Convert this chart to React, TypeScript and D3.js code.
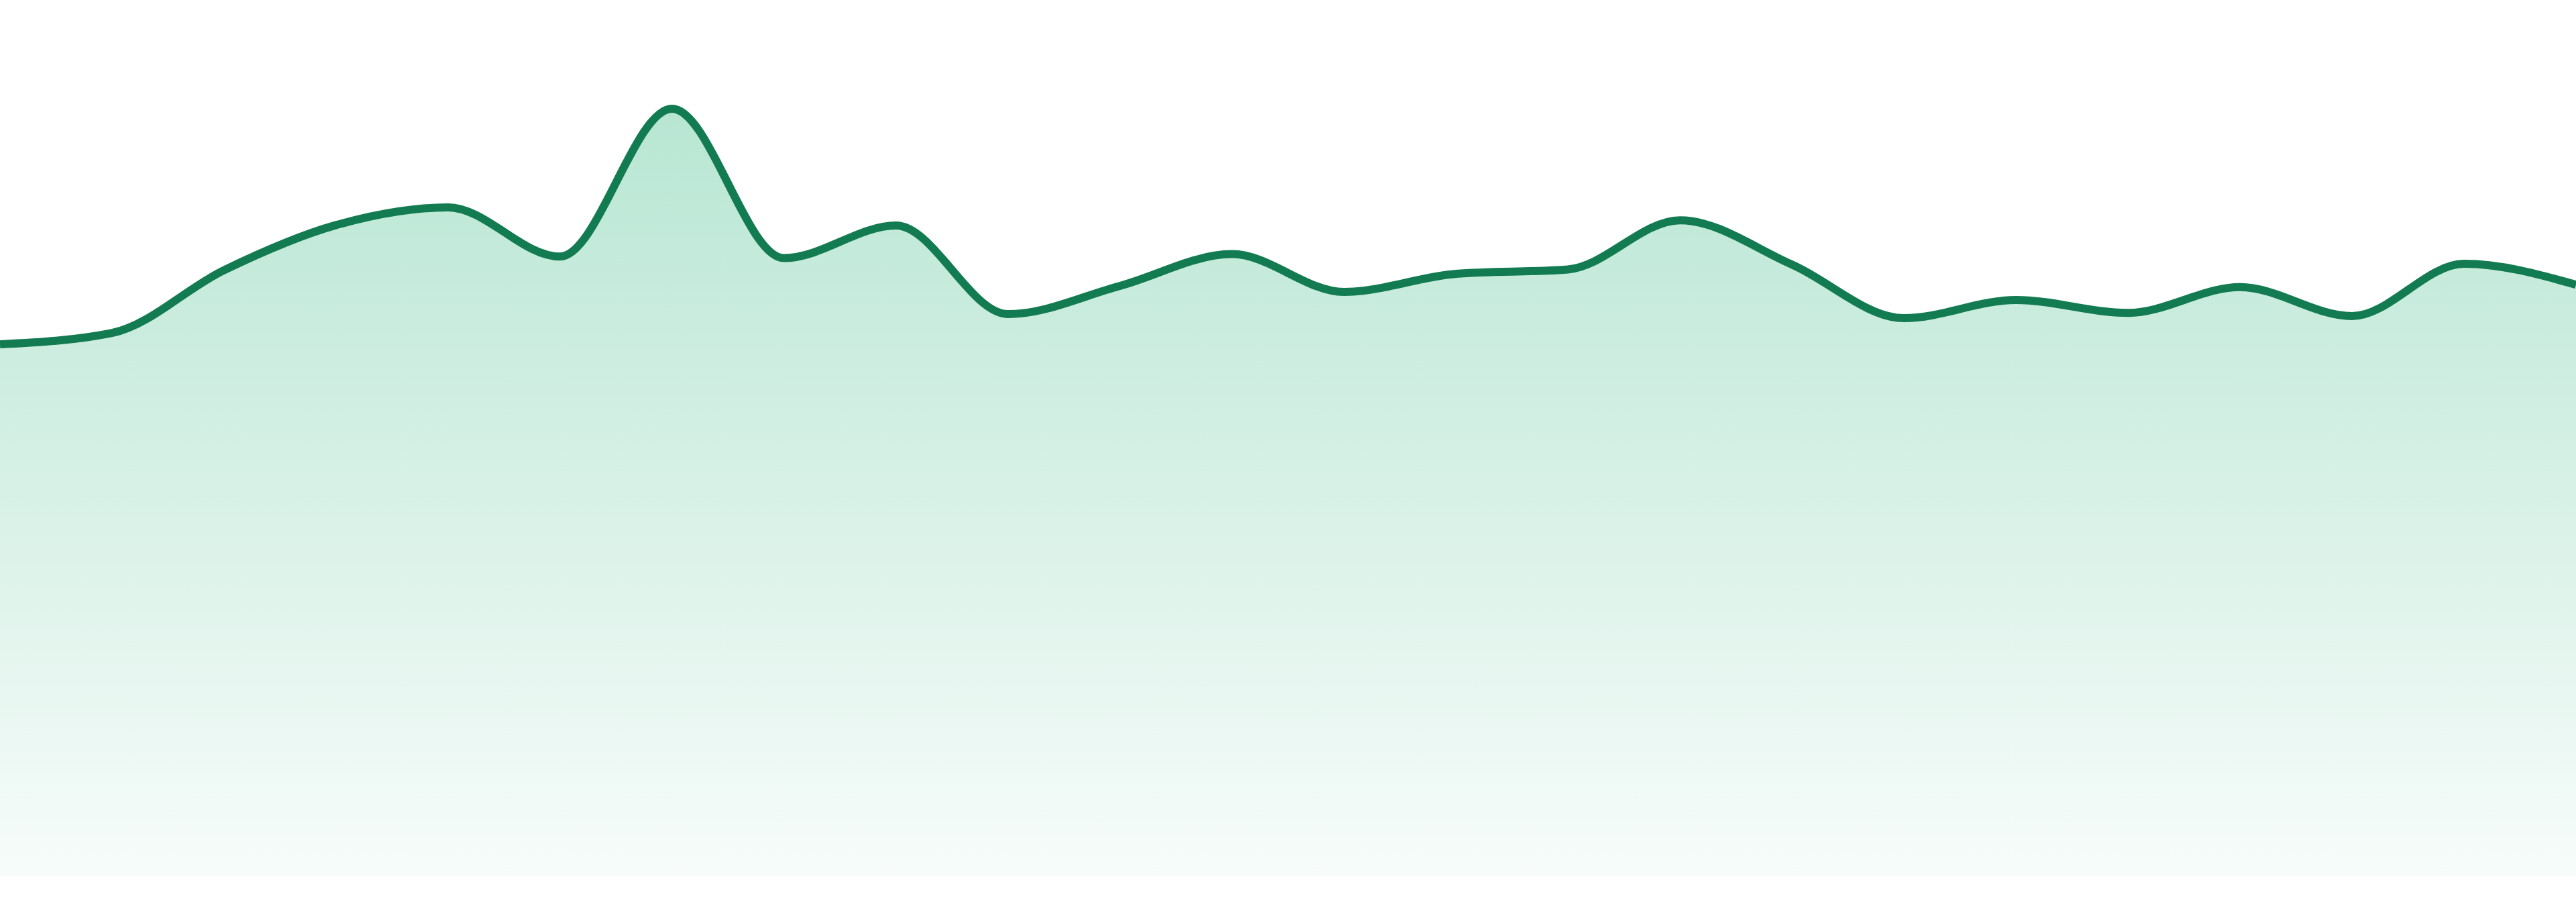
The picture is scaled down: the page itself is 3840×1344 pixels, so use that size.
import React from 'react';
import { area, curveMonotoneX, line, scaleLinear } from 'd3';

const width = 3840;
const height = 1344;
const baseline = 1305;

// one reading per step
const steps = [0, 1, 2, 3, 4, 5, 6, 7, 8, 9, 10, 11, 12, 13, 14, 15, 16, 17, 18, 19, 20, 21, 22, 23];
const values = [
  66.0, 67.4, 75.2, 80.8, 83.0, 76.9, 95.25, 76.7, 80.75, 69.75, 73.25, 77.2,
  72.5, 74.75, 75.3, 81.4, 75.9, 69.25, 71.5, 69.9, 73.1, 69.5, 76.0, 73.4
];

const lineColor = '#137b51';
const topColor = '#b8e6d3';
const bottomColor = '#f7fcfa';

type Point = { s: number; v: number };

function App() {
  const xScale = scaleLinear()
    .domain([0, steps.length - 1])
    .range([0, width]);

  const yScale = scaleLinear()
    .domain([0, 100])
    .range([baseline, 105]);

  const points: Point[] = steps.map((s, i) => ({ s, v: values[i] }));

  const areaPath = area<Point>()
    .x(d => xScale(d.s))
    .y0(baseline)
    .y1(d => yScale(d.v))
    .curve(curveMonotoneX)(points)!;

  const linePath = line<Point>()
    .x(d => xScale(d.s))
    .y(d => yScale(d.v))
    .curve(curveMonotoneX)(points)!;

  // fill the whole window whatever its css size is
  return (
    <svg
      viewBox={`0 0 ${width} ${height}`}
      preserveAspectRatio="none"
      style={{ position: 'fixed', left: 0, top: 0, width: '100vw', height: '100vh', display: 'block', background: '#fff' }}
    >
      <defs>
        <linearGradient id="fade" x1="0" y1="0" x2="0" y2="1">
          <stop offset="0%" stopColor={topColor} />
          <stop offset="100%" stopColor={bottomColor} />
        </linearGradient>
      </defs>
      <path d={areaPath} fill="url(#fade)" />
      <path d={linePath} fill="none" stroke={lineColor} strokeWidth={12} strokeLinejoin="round" />
    </svg>
  );
}

export default App;
